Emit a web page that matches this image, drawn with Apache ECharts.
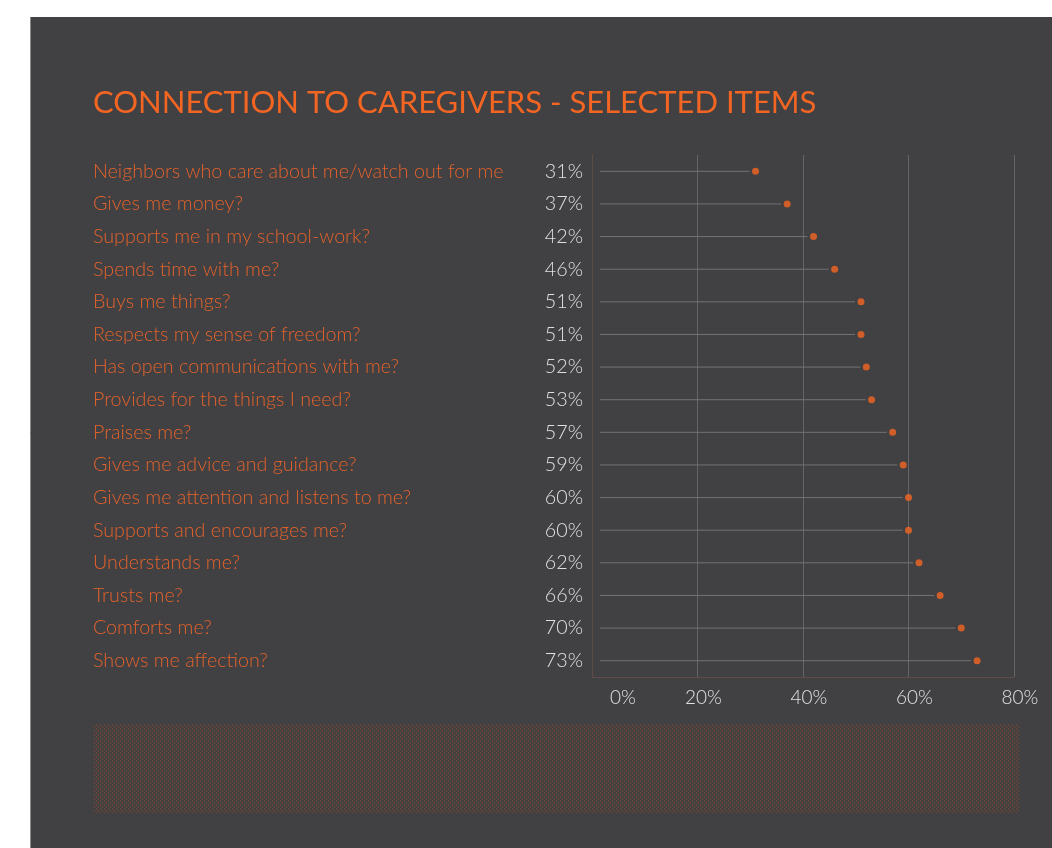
<!DOCTYPE html>
<html>
<head>
<meta charset="utf-8">
<style>
  html, body { margin: 0; padding: 0; background: #ffffff; }
  #chart { width: 1052px; height: 848px; }
</style>
<script src="https://cdn.jsdelivr.net/npm/echarts@6/dist/echarts.min.js"></script>
</head>
<body>
<div id="chart"></div>
<script>
// Survey items, top to bottom
const items = [
  'Neighbors who care about me/watch out for me',
  'Gives me money?',
  'Supports me in my school-work?',
  'Spends time with me?',
  'Buys me things?',
  'Respects my sense of freedom?',
  'Has open communications with me?',
  'Provides for the things I need?',
  'Praises me?',
  'Gives me advice and guidance?',
  'Gives me attention and listens to me?',
  'Supports and encourages me?',
  'Understands me?',
  'Trusts me?',
  'Comforts me?',
  'Shows me affection?'
];

// Share of respondents (%)
const shares = [31, 37, 42, 46, 51, 51, 52, 53, 57, 59, 60, 60, 62, 66, 70, 73];

// Value axis range and step
const axisMin = 0;
const axisMax = 80;
const axisStep = 20;

const ORANGE = '#F26522';
const LABEL_ORANGE = '#E4622B';
const PANEL = '#414042';
const FONT = 'Lato, "Open Sans", sans-serif';

const gridLeft = 592;
const gridRight = 1052 - 1014;

// small woven texture for the footer band
function makeTexture() {
  const c = document.createElement('canvas');
  c.width = 4; c.height = 4;
  const ctx = c.getContext('2d');
  ctx.fillStyle = PANEL;
  ctx.fillRect(0, 0, 4, 4);
  ctx.fillStyle = '#6a4536';
  ctx.fillRect(0, 0, 1, 2);
  ctx.fillRect(2, 2, 1, 2);
  ctx.fillStyle = '#4f403c';
  ctx.fillRect(1, 1, 1, 1);
  ctx.fillRect(3, 3, 1, 1);
  return c;
}

const chart = echarts.init(document.getElementById('chart'), null, { renderer: 'canvas' });

chart.setOption({
  backgroundColor: PANEL,
  animation: false,
  title: {
    text: 'CONNECTION TO CAREGIVERS - SELECTED ITEMS',
    left: 88,
    top: 82,
    textStyle: {
      color: ORANGE,
      fontFamily: FONT,
      fontSize: 31,
      fontWeight: 400
    }
  },
  graphic: [
    { type: 'rect', silent: true, shape: { x: 0, y: 0, width: 1052, height: 17 }, style: { fill: '#ffffff' } },
    { type: 'rect', silent: true, shape: { x: 0, y: 0, width: 30, height: 848 }, style: { fill: '#ffffff' } },
    { type: 'line', silent: true, shape: { x1: 30.5, y1: 17, x2: 30.5, y2: 848 }, style: { stroke: '#8a8a8a', lineWidth: 1 } },
    {
      type: 'rect', silent: true,
      shape: { x: 93, y: 724, width: 927, height: 89 },
      style: { fill: { image: makeTexture(), repeat: 'repeat' } }
    }
  ],
  grid: {
    left: gridLeft,
    right: gridRight,
    top: 155,
    height: 522,
    containLabel: false
  },
  xAxis: {
    type: 'value',
    min: axisMin,
    max: axisMax,
    interval: axisStep,
    axisLine: { show: true, lineStyle: { color: '#5e4d47', width: 1 } },
    axisTick: { show: false },
    splitLine: { show: true, lineStyle: { color: '#656567', width: 1 } },
    axisLabel: {
      margin: 11,
      formatter: v => (v === 0 ? '{p0| }' : '{p| }') + '{t|' + v + '%}',
      rich: {
        p0: { width: 62 },
        p: { width: 12 },
        t: {
          color: '#e2e2e2',
          fontFamily: FONT,
          fontWeight: 300,
          fontSize: 19
        }
      }
    }
  },
  yAxis: [
    {
      type: 'category',
      data: items,
      inverse: true,
      axisLine: { show: true, lineStyle: { color: '#5e4d47', width: 1 } },
      axisTick: { show: false },
      splitLine: { show: false },
      axisLabel: {
        align: 'left',
        margin: gridLeft - 93,
        color: LABEL_ORANGE,
        fontFamily: FONT,
        fontWeight: 300,
        fontSize: 19.7
      }
    },
    {
      type: 'category',
      position: 'left',
      data: shares.map(v => v + '%'),
      inverse: true,
      axisLine: { show: false },
      axisTick: { show: false },
      splitLine: { show: false },
      axisLabel: {
        align: 'right',
        margin: gridLeft - 583,
        color: '#e0e0e0',
        fontFamily: FONT,
        fontWeight: 300,
        fontSize: 19.7
      }
    }
  ],
  series: [
    {
      // stems from the axis to each dot
      type: 'custom',
      yAxisIndex: 0,
      data: shares.map((v, i) => [v, i]),
      renderItem: function (params, api) {
        const start = api.coord([0, api.value(1)]);
        const end = api.coord([api.value(0), api.value(1)]);
        return {
          type: 'line',
          shape: { x1: start[0] + 8, y1: start[1], x2: end[0] - 6, y2: end[1] },
          style: { stroke: '#737375', lineWidth: 1 }
        };
      },
      silent: true,
      z: 2
    },
    {
      type: 'scatter',
      yAxisIndex: 0,
      data: shares.map((v, i) => [v, i]),
      symbol: 'circle',
      symbolSize: 7,
      itemStyle: { color: ORANGE },
      silent: true,
      z: 3
    }
  ]
});
</script>
</body>
</html>
